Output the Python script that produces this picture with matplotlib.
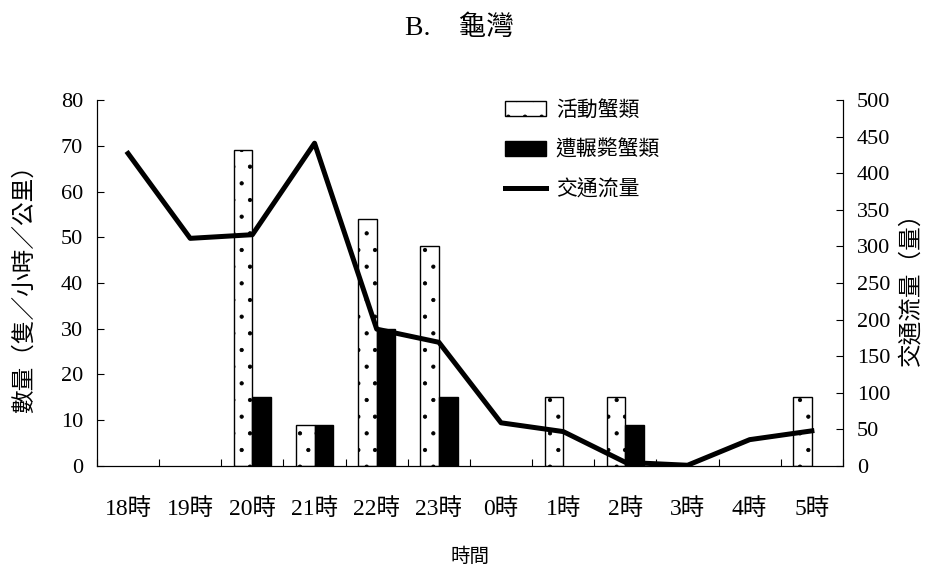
import matplotlib
matplotlib.use("Agg")
import matplotlib.pyplot as plt
from matplotlib.patches import Patch
from matplotlib.lines import Line2D
import numpy as np

plt.rcParams['font.family'] = ['Liberation Serif', 'Noto Sans CJK TC']
plt.rcParams['hatch.linewidth'] = 0.6
plt.rcParams['hatch.color'] = '#333333'

categories = ['18時', '19時', '20時', '21時', '22時', '23時', '0時', '1時', '2時', '3時', '4時', '5時']
active_crabs = [0, 0, 69, 9, 54, 48, 0, 15, 15, 0, 0, 15]
roadkill_crabs = [0, 0, 15, 9, 30, 15, 0, 0, 9, 0, 0, 0]
traffic = [427, 311, 316, 441, 187, 169, 59, 47, 5, 1, 36, 48]

fig = plt.figure(figsize=(9.36, 5.66), dpi=100)
ax = fig.add_axes([0.1036, 0.1767, 0.797, 0.6466])
ax2 = ax.twinx()

x = np.arange(len(categories))
w = 0.3
b1 = ax.bar(x - w / 2, active_crabs, width=w, facecolor='white', edgecolor='black',
            linewidth=1.0, hatch='.', zorder=2)
b2 = ax.bar(x + w / 2, roadkill_crabs, width=w, facecolor='black', edgecolor='black',
            linewidth=1.0, zorder=2)
for bars in (b1, b2):
    for p in bars:
        if p.get_height() == 0:
            p.set_visible(False)
ax2.plot(x, traffic, color='black', linewidth=3.6, zorder=3)

ax.set_xlim(-0.5, len(categories) - 0.5)
ax.set_ylim(0, 80)
ax2.set_ylim(0, 500)
ax.set_yticks(np.arange(0, 81, 10))
ax2.set_yticks(np.arange(0, 501, 50))

ax.set_xticks(x)
ax.set_xticklabels(categories)
ax.set_xticks(np.arange(-0.5, len(categories), 1.0), minor=True)
ax.tick_params(axis='x', which='major', length=0, labelsize=17, pad=23)
ax.tick_params(axis='x', which='minor', direction='in', length=5, width=0.8)
ax.tick_params(axis='y', direction='in', length=5, width=0.8, labelsize=16, pad=10)
ax2.tick_params(axis='y', direction='in', length=5, width=0.8, labelsize=16, pad=10)

for a in (ax, ax2):
    a.spines['top'].set_visible(False)
    for s in ('left', 'right', 'bottom'):
        a.spines[s].set_linewidth(0.8)

ax.set_ylabel('數量（隻／小時／公里）', fontsize=17, labelpad=18)
ax2.set_ylabel('交通流量（量）', fontsize=17, labelpad=7, rotation=90)
ax.set_xlabel('時間', fontsize=14, labelpad=20)
fig.text(0.491, 0.950, 'B.    龜灣', ha='center', va='center', fontsize=20)

handles = [
    Patch(facecolor='white', edgecolor='black', hatch='.', linewidth=1.0),
    Patch(facecolor='black', edgecolor='black'),
    Line2D([0], [0], color='black', linewidth=3.6),
]
labels = ['活動蟹類', '遭輾斃蟹類', '交通流量']
ax2.legend(handles, labels, loc='upper left', bbox_to_anchor=(0.5215, 1.049),
           frameon=False, fontsize=15, handlelength=2.0, handleheight=0.75,
           labelspacing=0.95, handletextpad=0.45)

fig.savefig('out.png', dpi=100)
